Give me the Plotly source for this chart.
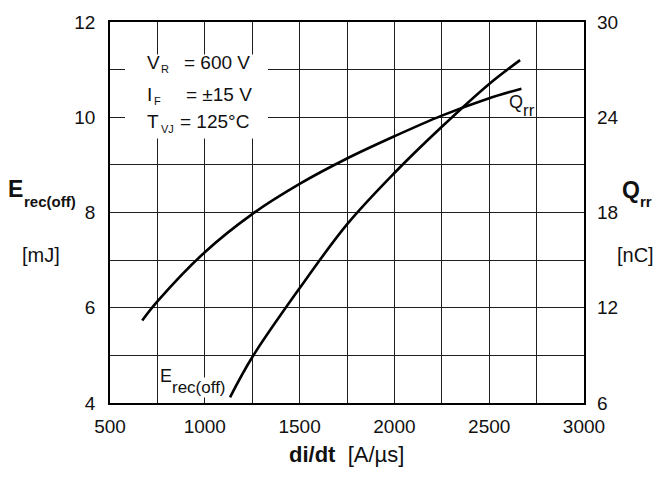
import plotly.graph_objects as go

# di/dt values [A/µs] and reverse-recovery data
e_didt = [1133, 1250, 1500, 1750, 2000, 2250, 2500, 2663]
e_rec_off = [4.12, 4.96, 6.41, 7.75, 8.83, 9.8, 10.7, 11.2]  # mJ

q_didt = [670, 750, 1000, 1250, 1500, 1750, 2000, 2250, 2500, 2670]
q_rr = [11.2, 12.4, 15.5, 17.9, 19.8, 21.4, 22.8, 24.1, 25.2, 25.8]  # nC

x_ticks = [500, 750, 1000, 1250, 1500, 1750, 2000, 2250, 2500, 2750, 3000]
x_labels = ["500", "", "1000", "", "1500", "", "2000", "", "2500", "", "3000"]
y_ticks = [4, 5, 6, 7, 8, 9, 10, 11, 12]
y_labels = ["4", "", "6", "", "8", "", "10", "", "12"]
y2_ticks = [6, 12, 18, 24, 30]
y2_labels = ["6", "12", "18", "24", "30"]

X_RANGE = [500, 3000]
Y_RANGE = [4, 12]
Y2_RANGE = [6, 30]

FONT = "Liberation Sans, Arial, Helvetica, sans-serif"
INK = "#111111"

W, H = 656, 480
ML, MR, MT, MB = 110, 72, 17, 77
PW, PH = W - ML - MR, H - MT - MB


def px_x(px):
    return (px - ML) / PW


def px_y(py):
    return (H - MB - py) / PH


def data_x(px):
    return X_RANGE[0] + px_x(px) * (X_RANGE[1] - X_RANGE[0])


def data_y(py):
    return Y_RANGE[0] + px_y(py) * (Y_RANGE[1] - Y_RANGE[0])


fig = go.Figure()
fig.add_trace(go.Scatter(
    x=e_didt, y=e_rec_off, mode="lines", name="Erec(off)",
    line=dict(color="black", width=2.6, shape="spline", smoothing=1.0),
    yaxis="y", showlegend=False,
))
fig.add_trace(go.Scatter(
    x=q_didt, y=q_rr, mode="lines", name="Qrr",
    line=dict(color="black", width=2.6, shape="spline", smoothing=1.0),
    yaxis="y2", showlegend=False,
))

tick_font = dict(family=FONT, size=19, color=INK)
axis_common = dict(
    showline=True, linecolor="black", linewidth=1.6, mirror=True,
    gridcolor="#1e1e1e", gridwidth=1.2, zeroline=False,
    tickfont=tick_font, ticks="",
)

fig.update_layout(
    width=W, height=H,
    margin=dict(l=ML, r=MR, t=MT, b=MB),
    paper_bgcolor="white", plot_bgcolor="white",
    font=dict(family=FONT, color=INK),
    xaxis=dict(range=X_RANGE, tickmode="array", tickvals=x_ticks,
               ticktext=x_labels, ticklabelstandoff=5, **axis_common),
    yaxis=dict(range=Y_RANGE, tickmode="array", tickvals=y_ticks,
               ticktext=y_labels, ticklabelstandoff=9, **axis_common),
    yaxis2=dict(range=Y2_RANGE, tickmode="array", tickvals=y2_ticks,
                ticktext=y2_labels, overlaying="y", side="right",
                showgrid=False, showline=False, zeroline=False,
                ticks="", ticklabelstandoff=12, tickfont=tick_font),
)


def text_at(px, py, text, size, xanchor="left", bold=False, bg=None):
    fig.add_annotation(
        x=px_x(px), y=px_y(py), xref="paper", yref="paper",
        text=f"<b>{text}</b>" if bold else text, showarrow=False,
        xanchor=xanchor, yanchor="middle",
        font=dict(family=FONT, size=size, color=INK),
        bgcolor=bg, borderpad=0,
    )


# white panel behind the operating conditions (drawn above the grid)
fig.add_shape(type="rect", xref="x", yref="y",
              x0=data_x(125), x1=data_x(268), y0=data_y(135), y1=data_y(50),
              fillcolor="white", line=dict(width=0), layer="between")

# operating conditions: symbol, subscript, value
conditions = [
    ("V", "R", "= 600 V", 58, 183),
    ("I", "F", "= ±15 V", 90, 185),
    ("T", "VJ", "= 125°C", 118, 179),
]
for sym, sub, val, py, vx in conditions:
    text_at(146, py, sym, 19)
    sub_x = 147 + (13 if sym != "I" else 6)
    text_at(sub_x, py + 7, sub, 11)
    text_at(vx, py, val, 19)

# curve labels
text_at(159, 376, "E", 18)
text_at(171, 387, "rec(off)", 17, bg="white")
text_at(508, 98, "Q", 18)
text_at(522, 107, "rr", 17)

# axis titles
fig.add_annotation(x=px_x(346), y=px_y(470), xref="paper", yref="paper",
                   text="<b>di/dt</b>\u00a0\u00a0[A/µs]", showarrow=False,
                   font=dict(family=FONT, size=22, color=INK))
text_at(7, 186, "E", 23, bold=True)
text_at(23, 199, "rec(off)", 15, bold=True)
text_at(41, 253, "[mJ]", 20, xanchor="center")
text_at(621, 187, "Q", 23, bold=True)
text_at(639, 199, "rr", 15, bold=True)
text_at(635, 253, "[nC]", 20, xanchor="center")

fig.write_html("out.html")
